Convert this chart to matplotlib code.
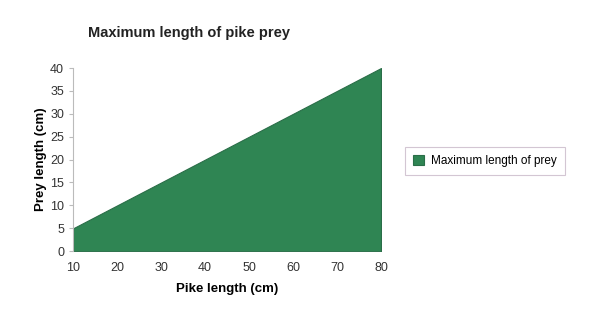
import matplotlib.pyplot as plt

pike_length = [10, 20, 30, 40, 50, 60, 70, 80]
max_prey = [5, 10, 15, 20, 25, 30, 35, 40]
series_name = 'Maximum length of prey'

plt.rcParams['font.family'] = ['Liberation Sans', 'DejaVu Sans']

fig = plt.figure(figsize=(6, 3.12), dpi=100)
ax = fig.add_axes([0.122, 0.195, 0.513, 0.587])

green = '#2f8553'
ax.fill_between(pike_length, 0, max_prey, color=green, edgecolor='#2a6e48',
                linewidth=0.8, label=series_name)

ax.set_xlim(10, 80)
ax.set_ylim(0, 40)
ax.set_xticks(pike_length)
ax.set_yticks(range(0, 41, 5))
ax.tick_params(labelsize=9, colors='#333333', length=3, color='#bbbbbb')
ax.tick_params(axis='x', length=0, pad=8)
for s in ['top', 'right', 'bottom']:
    ax.spines[s].set_visible(False)
ax.spines['left'].set_color('#bbbbbb')

ax.set_xlabel('Pike length (cm)', fontsize=9.5, fontweight='bold', labelpad=6)
ax.set_ylabel('Prey length (cm)', fontsize=9.5, fontweight='bold', labelpad=2)
fig.text(0.147, 0.893, 'Maximum length of pike prey', fontsize=10.5,
         fontweight='bold', color='#222222', va='center')

leg = fig.legend(loc='center left', bbox_to_anchor=(0.665, 0.484), fontsize=8.5,
                 frameon=True, fancybox=False, handlelength=0.9, handleheight=0.9,
                 borderpad=0.7, handletextpad=0.6)
leg.get_frame().set_edgecolor('#c8b8c8')
leg.get_frame().set_linewidth(0.8)

fig.savefig('out.png', dpi=100)
